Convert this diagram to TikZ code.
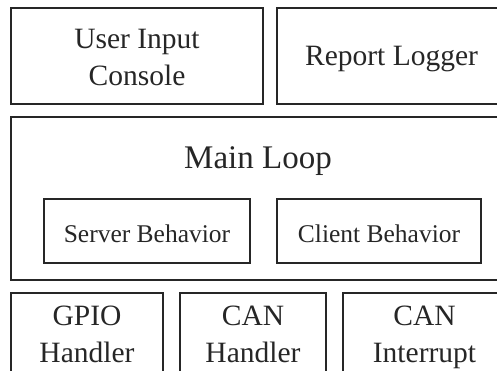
\documentclass[tikz,border=0pt]{standalone}
\usepackage{fontspec}
\setmainfont{Liberation Serif}
\begin{document}
\begin{tikzpicture}[x=1pt,y=-1pt,
  box/.style={draw=black!85, line width=1.2pt, inner sep=0pt},
  txt/.style={inner sep=0pt, align=center, text=black!85},
  bigtxt/.style={txt, font=\fontsize{29.5}{37}\selectfont},
  midtxt/.style={txt, font=\fontsize{25.5}{30}\selectfont},
  titletxt/.style={txt, font=\fontsize{33}{38}\selectfont}]
\useasboundingbox (0,0) rectangle (497,370);
\clip (0,0) rectangle (497,370);
% boxes
\node[box, minimum width=252pt, minimum height=96pt] (uic) at (137,56) {};
\node[box, minimum width=229pt, minimum height=96pt] (rl) at (391.5,56) {};
\node[box, minimum width=495pt, minimum height=163pt] (ml) at (258.5,198.5) {};
\node[box, minimum width=206pt, minimum height=64pt] (sb) at (147,231) {};
\node[box, minimum width=204pt, minimum height=64pt] (cb) at (379,231) {};
\node[box, minimum width=152pt, minimum height=82pt] (gpio) at (87,334) {};
\node[box, minimum width=146pt, minimum height=82pt] (canh) at (253,334) {};
\node[box, minimum width=163pt, minimum height=82pt] (cani) at (424.5,334) {};
% texts
\node[bigtxt] (uict) at (uic.center |- 0,60) {\strut User Input\\\strut Console};
\node[bigtxt, anchor=base] (rlt) at (rl.center |- 0,65) {Report Logger};
\node[titletxt, anchor=base] (mlt) at (258,168) {Main Loop};
\node[midtxt, anchor=base] (sbt) at (sb.center |- 0,242) {Server Behavior};
\node[midtxt, anchor=base] (cbt) at (cb.center |- 0,242.5) {Client Behavior};
\node[bigtxt] (gpiot) at (gpio.center |- 0,337) {\strut GPIO\\\strut Handler};
\node[bigtxt] (canht) at (canh.center |- 0,337) {\strut CAN\\\strut Handler};
\node[bigtxt] (canit) at (cani.center |- 0,337) {\strut CAN\\\strut Interrupt};
\end{tikzpicture}
\end{document}
